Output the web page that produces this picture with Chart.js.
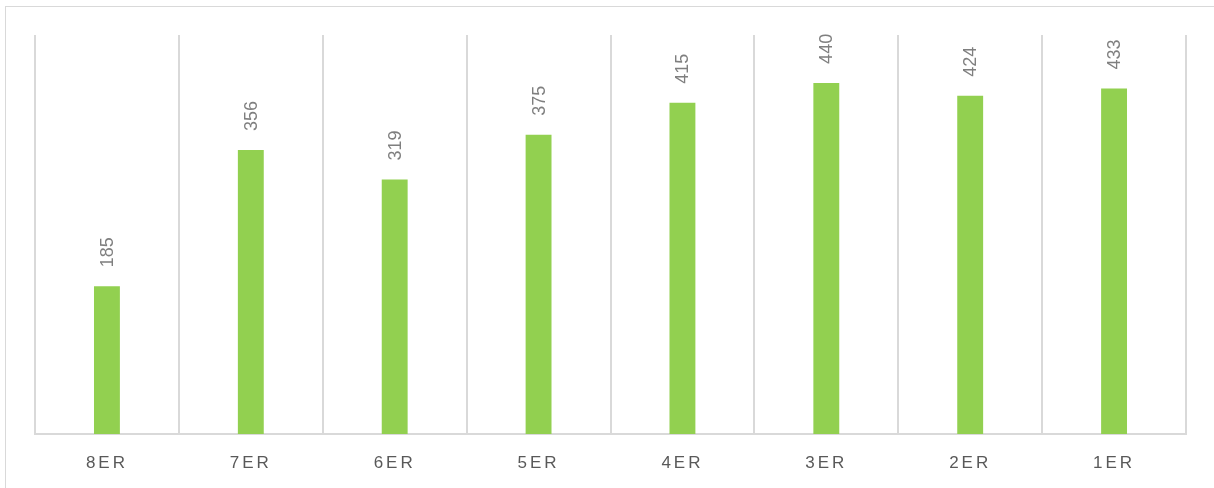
<!DOCTYPE html>
<html>
<head>
<meta charset="utf-8">
<script src="https://cdn.jsdelivr.net/npm/chart.js@4"></script>
<style>
  html, body { margin: 0; padding: 0; background: #fff; }
  #wrap { position: relative; width: 1214px; height: 488px; overflow: hidden; }
  #frame { position: absolute; left: 5px; top: 6px; width: 1240px; height: 500px; border: 1px solid #d9d9d9; box-sizing: border-box; }
  canvas { position: absolute; left: 0; top: 0; }
</style>
</head>
<body>
<div id="wrap">
  <div id="frame"></div>
  <canvas id="classGraph" width="1214" height="488"></canvas>
</div>
<script>
let classes = ['8ER', '7ER', '6ER', '5ER', '4ER', '3ER', '2ER', '1ER'];
let counts = [185, 356, 319, 375, 415, 440, 424, 433];

// spaced-out category labels, plain numbers above the bars
let spacing = {
  id: 'spacing',
  beforeDraw(chart) {
    chart.ctx.letterSpacing = '3px';
  },
  afterDatasetsDraw(chart) {
    let ctx = chart.ctx;
    let meta = chart.getDatasetMeta(0);
    ctx.save();
    ctx.letterSpacing = '0px';
    ctx.fillStyle = '#7f7f7f';
    ctx.font = '18px "Liberation Sans", Arial, sans-serif';
    ctx.textAlign = 'left';
    ctx.textBaseline = 'middle';
    meta.data.forEach((bar, i) => {
      ctx.save();
      ctx.translate(bar.x + 1, bar.y - 19);
      ctx.rotate(-Math.PI / 2);
      ctx.fillText(String(counts[i]), 0, 0);
      ctx.restore();
    });
    ctx.restore();
  }
};

let myGraph = document.getElementById('classGraph').getContext('2d');

let graph = new Chart(myGraph, {
  type: 'bar',
  data: {
    labels: classes,
    datasets: [{
      data: counts,
      backgroundColor: '#92d050',
      barPercentage: 0.18,
      categoryPercentage: 1
    }]
  },
  options: {
    responsive: false,
    animation: false,
    layout: { padding: { left: 35, right: 28, top: 35, bottom: 0 } },
    plugins: {
      legend: { display: false },
      tooltip: { enabled: false }
    },
    scales: {
      x: {
        grid: { offset: true, color: '#d9d9d9', lineWidth: 2, drawTicks: false },
        border: { display: true, color: '#d9d9d9', width: 2 },
        ticks: {
          color: '#595959',
          padding: 19,
          font: { size: 17, family: '"Liberation Sans", Arial, sans-serif' }
        },
        afterFit(scale) { scale.height = 54; }
      },
      y: {
        display: false,
        min: 0,
        max: 500
      }
    }
  },
  plugins: [spacing]
});
</script>
</body>
</html>
